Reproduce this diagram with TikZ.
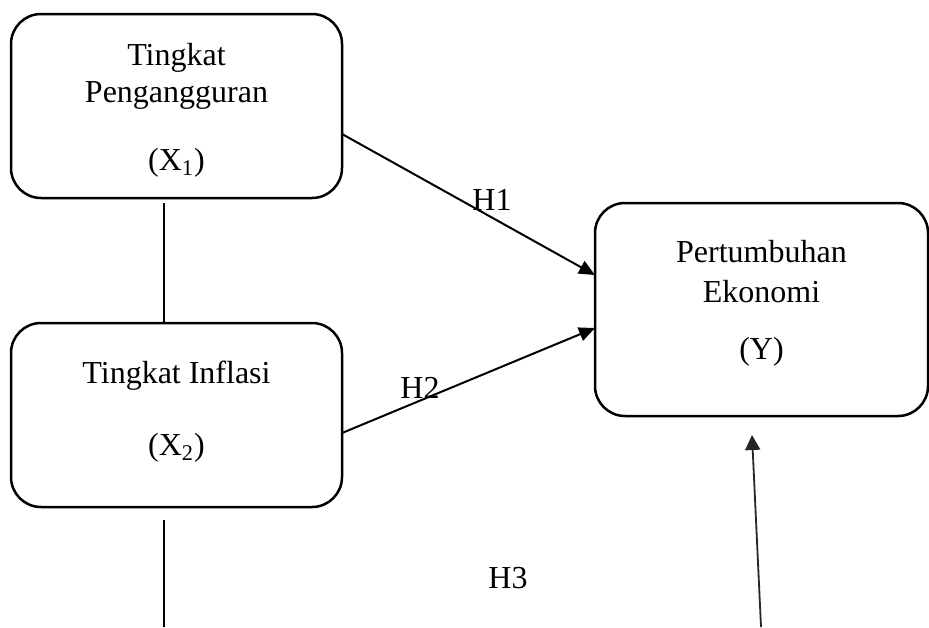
\documentclass[tikz,border=0pt]{standalone}
\usepackage{fontspec}
\setmainfont{Liberation Serif}
\usetikzlibrary{arrows.meta,positioning}

\begin{document}
\begin{tikzpicture}[
            x = 0.5pt,
            y = -0.5pt,
            font = \fontsize{16}{18.5}\selectfont,
            block/.style = {
                rectangle,
                draw,
                line width = 1.25pt,
                outer sep = 0pt,
                align = center,
                rounded corners = 15pt,
                minimum width = 165.5pt,
                minimum height = 92pt},
            arrow/.style = {
                draw,
                line width = 1pt,
                -{Triangle[length=8pt,width=7pt]}},
            link/.style = {
                draw,
                line width = 1pt},
            hyp/.style = {
                inner sep = 0pt}]
        \useasboundingbox (0,0) rectangle (929,627);
        % Place nodes
        \node [block] (x1) at (176.5,106) {\rule{0pt}{15pt}Tingkat\\Pengangguran\\[15.5pt](X\textsubscript{1})};
        \node [block] (x2) at (176.5,415) {Tingkat Inflasi\\[17.5pt](X\textsubscript{2})\rule[-6.5pt]{0pt}{6.5pt}};
        \node [block, minimum width=166.5pt, minimum height=106.5pt] (y) at (761.5,309.5) {Pertumbuhan\\[1.5pt]Ekonomi\\[10pt](Y)\rule[-9.5pt]{0pt}{9.5pt}};
        \node [hyp] (h1) at (492,200) {H1};
        \node [hyp] (h2) at (420,388) {H2};
        \node [hyp] (h3) at (508,578) {H3};
        \coordinate (x2end) at (164,627);
        \coordinate (h3start) at (761,627);

        % Draw edges
        \path [link] ([xshift=-6.25pt,yshift=-2.5pt]x1.south) -- ([xshift=-6.25pt]x2.north);
        \path [link] ([xshift=-6.25pt,yshift=-6.5pt]x2.south) -- (x2end);
        \path [arrow] ([yshift=-14pt]x1.east) -- ([yshift=17.25pt]y.west);
        \path [arrow] ([yshift=-9pt]x2.east) -- ([yshift=-9.25pt]y.west);
        \path [arrow, black!85, line width=0.9pt, -{Triangle[length=7.5pt,width=7.5pt]}] (h3start) -- ([xshift=-4.75pt,yshift=-9.5pt]y.south);
    \end{tikzpicture}
\end{document}
